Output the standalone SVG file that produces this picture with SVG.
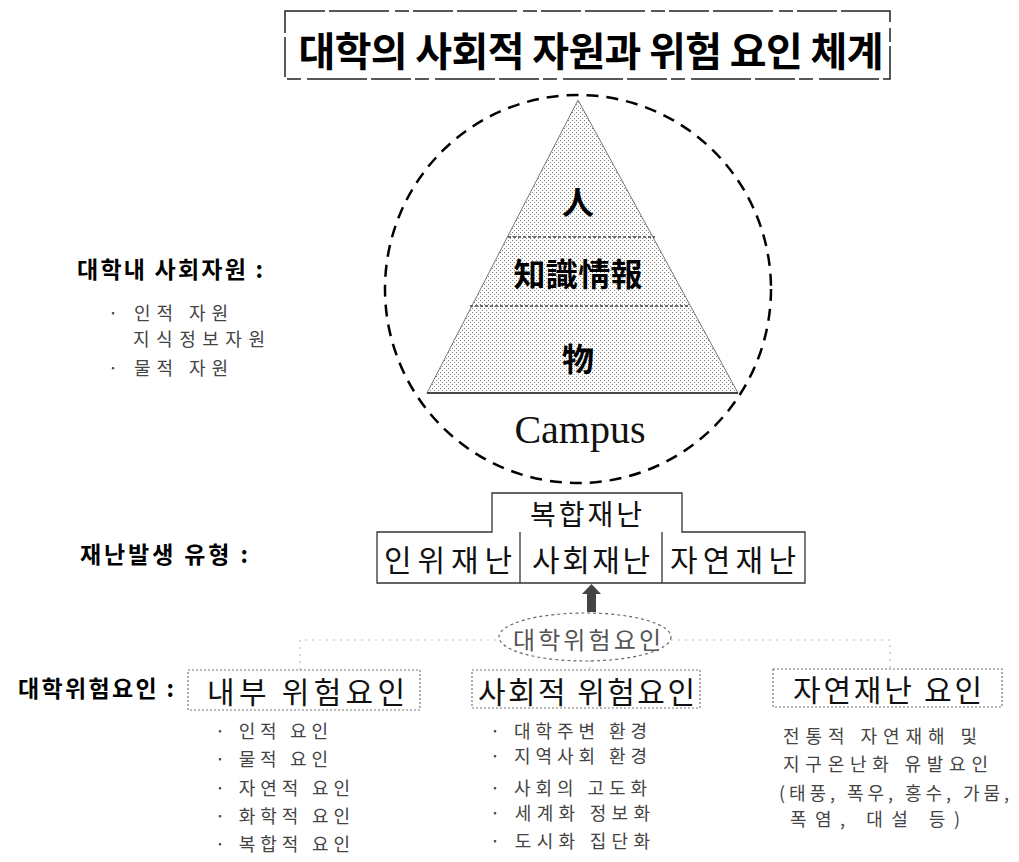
<svg xmlns="http://www.w3.org/2000/svg" width="1019" height="862" viewBox="0 0 1019 862">
<style>
.k{font-family:"Noto Sans CJK KR","Noto Sans",sans-serif;dominant-baseline:central;}
.b{font-weight:bold;fill:#000;}
.sm{font-size:18px;fill:#444;}
.box{fill:none;stroke:#333;stroke-width:1.3;}
.dbox{fill:none;stroke:#777;stroke-width:1.2;stroke-dasharray:2 2;}
.faint{fill:none;stroke:#bbb;stroke-width:1.2;stroke-dasharray:2 5;}
</style>
<defs>
<pattern id="stip" width="4" height="4" patternUnits="userSpaceOnUse">
<rect width="4" height="4" fill="#fff"/>
<rect x="0" y="0" width="1" height="1" fill="#777"/>
<rect x="2" y="2" width="1" height="1" fill="#888"/>
</pattern>
</defs>
<rect width="1019" height="862" fill="#fff"/>

<g id="title">
<rect x="285" y="11" width="605" height="68" fill="none" stroke="#222" stroke-width="1.5" stroke-dasharray="40 4 60 6 14 4"/>
<text class="k b" x="591" y="49" font-size="40" text-anchor="middle" textLength="585">대학의 사회적 자원과 위험 요인 체계</text>
</g>

<g id="campus">
<ellipse cx="578" cy="289" rx="193" ry="194" fill="none" stroke="#000" stroke-width="2.5" stroke-dasharray="12 8"/>
<polygon points="578,100 738,393 427,393" fill="url(#stip)" stroke="#777" stroke-width="1"/>
<line x1="427" y1="393" x2="738" y2="393" stroke="#222" stroke-width="1.6"/>
<line x1="508" y1="237" x2="655" y2="237" stroke="#444" stroke-width="1.4" stroke-dasharray="3 2"/>
<line x1="470" y1="306" x2="688" y2="306" stroke="#444" stroke-width="1.4" stroke-dasharray="3 2"/>
<text class="k b" x="578" y="200" font-size="32" text-anchor="middle">人</text>
<text class="k b" x="578" y="272" font-size="32" text-anchor="middle" textLength="129">知識情報</text>
<text class="k b" x="578" y="357" font-size="32" text-anchor="middle">物</text>
<text x="580" y="443" font-family="Liberation Serif, serif" font-size="40" text-anchor="middle" fill="#111">Campus</text>
</g>

<g id="resources">
<text class="k b" x="77" y="268" font-size="23" textLength="186">대학내 사회자원 :</text>
<text class="k sm" x="108" y="312" textLength="120">· 인적 자원</text>
<text class="k sm" x="133" y="338" textLength="132">지식정보자원</text>
<text class="k sm" x="108" y="367" textLength="120">· 물적 자원</text>
</g>

<g id="disaster-types">
<text class="k b" x="80" y="553" font-size="23" textLength="168">재난발생 유형 :</text>
<path class="box" d="M377,532 H492 V493 H682 V532 H805 V583 H377 Z"/>
<line class="box" x1="520" y1="532" x2="520" y2="583"/>
<line class="box" x1="662" y1="532" x2="662" y2="583"/>
<text class="k" x="586" y="513" font-size="28" text-anchor="middle" textLength="112" fill="#111">복합재난</text>
<text class="k" x="448" y="558" font-size="30" text-anchor="middle" textLength="128" fill="#111">인위재난</text>
<text class="k" x="591" y="558" font-size="30" text-anchor="middle" textLength="118" fill="#111">사회재난</text>
<text class="k" x="733" y="558" font-size="30" text-anchor="middle" textLength="126" fill="#111">자연재난</text>
</g>

<g id="connectors">
<rect x="587" y="592" width="9" height="20" fill="#444"/>
<polygon points="582,594 601,594 591.5,584" fill="#444"/>
<path class="faint" d="M300,670 V640 H499"/>
<path class="faint" d="M671,640 H890 V669"/>
<path class="faint" d="M590,660 V670"/>
</g>

<g id="risk-center">
<ellipse cx="585" cy="637" rx="86" ry="24" fill="none" stroke="#666" stroke-width="1.2" stroke-dasharray="3 3"/>
<text class="k" x="587" y="638" font-size="24" text-anchor="middle" textLength="148" fill="#555">대학위험요인</text>
</g>

<g id="risk-label">
<text class="k b" x="18" y="687" font-size="23" textLength="156">대학위험요인 :</text>
</g>

<g id="internal">
<rect class="dbox" x="188" y="670" width="232" height="40"/>
<text class="k" x="207" y="690" font-size="30" textLength="198" fill="#111">내부 위험요인</text>
<text class="k sm" x="215" y="730" textLength="113">· 인적 요인</text>
<text class="k sm" x="215" y="758" textLength="113">· 물적 요인</text>
<text class="k sm" x="215" y="787" textLength="135">· 자연적 요인</text>
<text class="k sm" x="215" y="815" textLength="135">· 화학적 요인</text>
<text class="k sm" x="215" y="843" textLength="135">· 복합적 요인</text>
</g>

<g id="social">
<rect class="dbox" x="472" y="670" width="228" height="38"/>
<text class="k" x="478" y="690" font-size="30" textLength="217" fill="#111">사회적 위험요인</text>
<text class="k sm" x="490" y="730" textLength="157">· 대학주변 환경</text>
<text class="k sm" x="490" y="755" textLength="157">· 지역사회 환경</text>
<text class="k sm" x="490" y="787" textLength="157">· 사회의 고도화</text>
<text class="k sm" x="490" y="812" textLength="160">· 세계화 정보화</text>
<text class="k sm" x="490" y="840" textLength="160">· 도시화 집단화</text>
</g>

<g id="natural">
<rect class="dbox" x="773" y="669" width="229" height="38"/>
<text class="k" x="793" y="688" font-size="30" textLength="189" fill="#111">자연재난 요인</text>
<text class="k sm" x="783" y="735" textLength="194">전통적 자연재해 및</text>
<text class="k sm" x="783" y="763" textLength="205">지구온난화 유발요인</text>
<text class="k sm" x="779" y="792" textLength="230">(태풍, 폭우, 홍수, 가뭄,</text>
<text class="k sm" x="790" y="818" textLength="170">폭염, 대설 등)</text>
</g>
</svg>
